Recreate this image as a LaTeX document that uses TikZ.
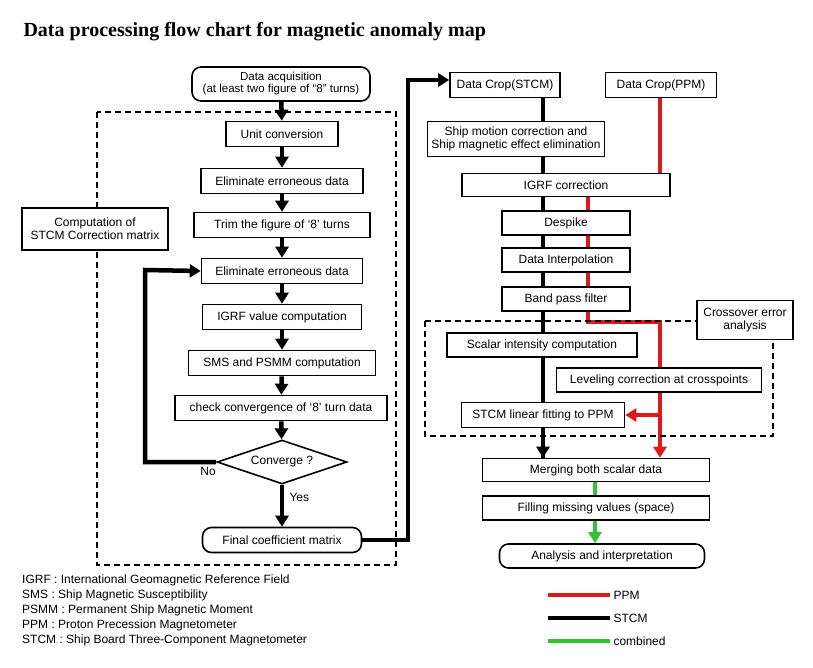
\documentclass[tikz,border=0pt]{standalone}
\usepackage{fontspec}
\setmainfont{Liberation Sans}
\newfontfamily\titlefont{Liberation Serif}
\usetikzlibrary{arrows.meta, positioning, shapes.geometric, backgrounds}

\begin{document}
\begin{tikzpicture}[
    x=1pt, y=-1pt,
    box/.style={rectangle, draw, line width=1.6pt, fill=white, minimum height=25pt, inner sep=1pt, align=center, font=\fontsize{12}{13}\selectfont},
    rbox/.style={box, rounded corners=9pt},
    flow/.style={line width=4.5pt, -{Triangle[length=11pt, width=13pt]}},
    trace/.style={line width=4.5pt},
    dashbox/.style={draw, dashed, line width=1.2pt, dash pattern=on 6pt off 4pt},
]
\useasboundingbox (0,0) rectangle (813,667);

% Title
\node[anchor=west, font=\titlefont\bfseries\fontsize{20}{22}\selectfont] (title) at (20,32) {Data processing flow chart for magnetic anomaly map};

% Left column: STCM correction matrix
\draw[dashbox] (97,112) rectangle (396,565);
\node[rbox, minimum width=178pt, minimum height=34pt, font=\fontsize{11.5}{12}\selectfont] (acq) at (281,84) {Data acquisition\\(at least two figure of ``8'' turns)};
\node[box, minimum width=112pt] (unit) at (282,134) {Unit conversion};
\node[box, minimum width=162pt] (elim1) at (282,181) {Eliminate erroneous data};
\node[box, minimum width=176pt] (trim) at (282,225) {Trim the figure of `8' turns};
\node[box, minimum width=161pt] (elim2) at (282,271) {Eliminate erroneous data};
\node[box, minimum width=159pt] (igrfv) at (282,317) {IGRF value computation};
\node[box, minimum width=187pt] (sms) at (282,363) {SMS and PSMM computation};
\node[box, minimum width=212pt] (conv) at (281,408) {check convergence of `8' turn data};
\node[diamond, draw, line width=1.6pt, fill=white, aspect=2.9, minimum width=130pt, minimum height=44pt, inner sep=0pt, font=\fontsize{12}{13}\selectfont] (converge) at (282,462) {Converge ?};
\node[rbox, minimum width=159pt] (final) at (282,540) {Final coefficient matrix};
\node[box, minimum width=146pt, minimum height=42pt] (stcmbox) at (95,229) {Computation of\\STCM Correction matrix};
\coordinate (loopa) at (145,462);
\coordinate (loopb) at (145,270);

\begin{scope}[on background layer]
\draw[flow] (acq) -- (unit);
\draw[flow] (unit) -- (elim1);
\draw[flow] (elim1) -- (trim);
\draw[flow] (trim) -- (elim2);
\draw[flow] (elim2) -- (igrfv);
\draw[flow] (igrfv) -- (sms);
\draw[flow] (sms) -- (conv);
\draw[flow] (conv) -- (converge);
\draw[flow] (converge) -- node[right=2pt, font=\fontsize{12}{13}\selectfont, pos=0.3] {Yes} (final);
\draw[flow] (converge.west) -- node[below right, font=\fontsize{12}{13}\selectfont, pos=0.3] {No} (loopa) -- (loopb) -- (elim2.west);
\end{scope}

% Right column
\node[box, minimum width=110pt] (cropS) at (505,85) {Data Crop(STCM)};
\node[box, minimum width=111pt] (cropP) at (661,85) {Data Crop(PPM)};
\node[box, minimum width=177pt, minimum height=35pt] (ship) at (516,139) {Ship motion correction and\\Ship magnetic effect elimination};
\node[box, minimum width=208pt, minimum height=23pt] (igrf) at (566,185) {IGRF correction};
\node[box, minimum width=128pt, minimum height=24pt] (despike) at (566,223) {Despike};
\node[box, minimum width=128pt, minimum height=24pt] (interp) at (566,260) {Data Interpolation};
\node[box, minimum width=128pt, minimum height=24pt] (band) at (566,299) {Band pass filter};
\draw[dashbox] (425,321) rectangle (773,436);
\node[box, minimum width=96pt, minimum height=39pt] (cross) at (745,320) {Crossover error\\analysis};
\node[box, minimum width=190pt, minimum height=24pt] (scalar) at (542,345) {Scalar intensity computation};
\node[box, minimum width=205pt, minimum height=24pt] (level) at (659,380) {Leveling correction at crosspoints};
\node[box, minimum width=163pt] (fit) at (543,415) {STCM linear fitting to PPM};
\node[box, minimum width=227pt, minimum height=23pt] (merge) at (596,470) {Merging both scalar data};
\node[box, minimum width=227pt, minimum height=24pt] (fill) at (596,508) {Filling missing values (space)};
\node[rbox, minimum width=205pt, minimum height=24pt] (anal) at (602,556) {Analysis and interpretation};
\coordinate (up1) at (408,540);
\coordinate (up2) at (408,80);
\coordinate (red1) at (588,322);
\coordinate (red2) at (660,322);
\coordinate (red3) at (660,415);

\begin{scope}[on background layer]
\draw[flow] (final.east) -- (up1) -- (up2) -- (cropS.west |- up2);
\draw[trace] (cropS.south -| 543,0) -- (543,460);
\draw[flow] (543,440) -- (merge.north -| 543,0);
\draw[trace, red!85!black!90] (cropP.south -| 660,0) -- (igrf.north -| 660,0);
\draw[trace, red!85!black!90] (igrf.south -| red1) -- (red1) -- (red2) -- (red3);
\draw[flow, red!85!black!90] (red3) -- (merge.north -| red3);
\draw[flow, red!85!black!90] (red3) -- (fit.east);
\draw[flow, green!70!black!80] (merge.south -| 595,0) -- (anal.north -| 595,0);
\end{scope}

% Legends
\node[anchor=north west, align=left, font=\fontsize{12}{15}\selectfont, inner sep=0pt] (abbr) at (22,575) {IGRF : International Geomagnetic Reference Field\\SMS : Ship Magnetic Susceptibility\\PSMM : Permanent Ship Magnetic Moment\\PPM : Proton Precession Magnetometer\\STCM : Ship Board Three-Component Magnetometer};
\node[anchor=west, font=\fontsize{12}{13}\selectfont] (lppm) at (610,595) {PPM};
\node[anchor=west, font=\fontsize{12}{13}\selectfont] (lstcm) at (610,618) {STCM};
\node[anchor=west, font=\fontsize{12}{13}\selectfont] (lcomb) at (610,641) {combined};
\coordinate (k1) at (548,595);
\coordinate (k2) at (548,618);
\coordinate (k3) at (548,641);
\draw[trace, red!85!black!90] (k1) -- (lppm.west);
\draw[trace] (k2) -- (lstcm.west);
\draw[trace, green!70!black!80] (k3) -- (lcomb.west);
\end{tikzpicture}
\end{document}
